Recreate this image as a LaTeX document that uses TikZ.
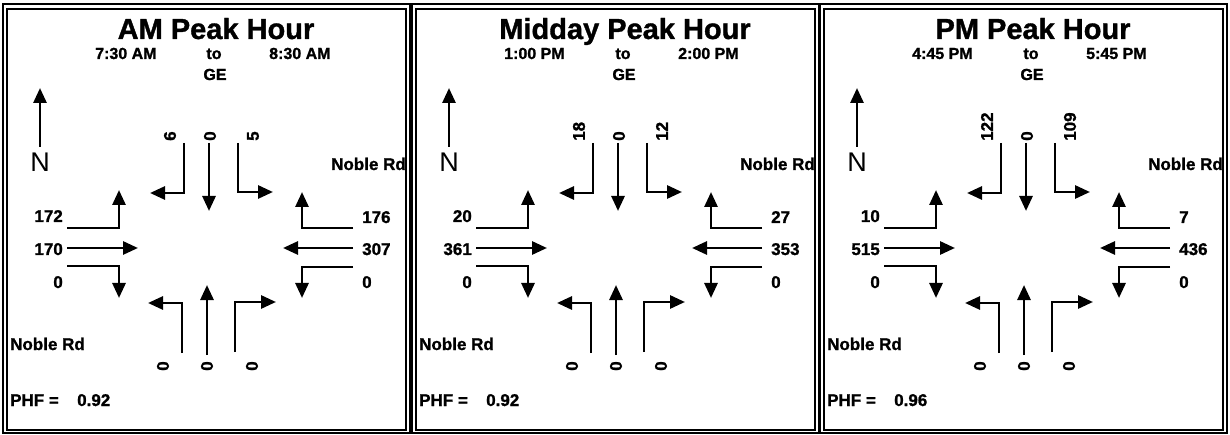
\documentclass[tikz,border=0pt]{standalone}
\usepackage{fontspec}
\setmainfont{Liberation Sans}[BoldFeatures={FakeBold=1.2}]
\usetikzlibrary{arrows.meta}
\begin{document}
\begin{tikzpicture}[x=1pt,y=-1pt,
  lbl/.style={font=\fontsize{17}{17}\selectfont\bfseries, inner sep=0pt},
  ttl/.style={font=\fontsize{29}{29}\selectfont\bfseries, inner sep=0pt},
  tm/.style={font=\fontsize{16}{16}\selectfont\bfseries, inner sep=0pt},
  nrth/.style={font=\fontsize{27}{27}\selectfont, inner sep=0pt},
  mv/.style={line width=2.8pt, -{Triangle[length=15pt,width=13pt]}},
  frm/.style={line width=1.3pt}]
\useasboundingbox (0,0) rectangle (1230,435);
\fill[white] (0,0) rectangle (1230,435);
\foreach \ox/\Tt/\Ta/\Tb/\Sa/\Sb/\Sc/\Ea/\Eb/\Ec/\Wa/\Wb/\Wc/\Ph [count=\i] in {
 0/AM Peak Hour/7:30 AM/8:30 AM/6/0/5/172/170/0/176/307/0/0.92,
 409/Midday Peak Hour/1:00 PM/2:00 PM/18/0/12/20/361/0/27/353/0/0.92,
 817/PM Peak Hour/4:45 PM/5:45 PM/122/0/109/10/515/0/7/436/0/0.96}
{
 \begin{scope}[xshift=\ox pt]
  % frame
  \draw[frm] (3,4) rectangle (410,433);
  \draw[frm] (7,9) rectangle (406,430);
  % headings
  \node[ttl, anchor=base] (title\i) at (216,39) {\Tt};
  \node[tm, anchor=base west] (from\i) at (95,59) {\Ta};
  \node[tm, anchor=base] (to\i) at (214,59) {to};
  \node[tm, anchor=base west] (till\i) at (269,59) {\Tb};
  \node[tm, anchor=base] (ge\i) at (215,80) {GE};
  % north arrow
  \coordinate (nb\i) at (40,147);
  \coordinate (nt\i) at (40,88);
  \draw[mv] (nb\i) -- (nt\i);
  \node[nrth, anchor=base] (N\i) at (40,172) {N};
  % street names
  \node[lbl, anchor=base east] (nobleE\i) at (406,170) {Noble Rd};
  \node[lbl, anchor=base west] (nobleW\i) at (10,350) {Noble Rd};
  \node[lbl, anchor=base west] (phfl\i) at (10,406) {PHF =};
  \node[lbl, anchor=base west] (phfv\i) at (77,406) {\Ph};
  % southbound
  \node[lbl, rotate=90, anchor=west] (sa\i) at (170,141) {\Sa};
  \node[lbl, rotate=90, anchor=west] (sb\i) at (210,141) {\Sb};
  \node[lbl, rotate=90, anchor=west] (sc\i) at (253,141) {\Sc};
  \draw[mv] (184,143) -- (184,193) -- (150,193);
  \draw[mv] (209,143) -- (209,211);
  \draw[mv] (238,143) -- (238,192) -- (273,192);
  % eastbound
  \node[lbl, anchor=base east] (ea\i) at (63,222) {\Ea};
  \node[lbl, anchor=base east] (eb\i) at (63,255) {\Eb};
  \node[lbl, anchor=base east] (ec\i) at (63,288) {\Ec};
  \draw[mv] (67,228) -- (119,228) -- (119,190);
  \draw[mv] (67,248) -- (138,248);
  \draw[mv] (67,266) -- (119,266) -- (119,298);
  % westbound
  \node[lbl, anchor=base west] (wa\i) at (362,223) {\Wa};
  \node[lbl, anchor=base west] (wb\i) at (362,255) {\Wb};
  \node[lbl, anchor=base west] (wc\i) at (362,288) {\Wc};
  \draw[mv] (353,228) -- (302,228) -- (302,192);
  \draw[mv] (353,248) -- (283,248);
  \draw[mv] (353,267) -- (302,267) -- (302,298);
  % northbound
  \node[lbl, rotate=90, anchor=west] (na\i) at (163,371) {0};
  \node[lbl, rotate=90, anchor=west] (nbt\i) at (207,371) {0};
  \node[lbl, rotate=90, anchor=west] (nc\i) at (252,371) {0};
  \draw[mv] (182,353) -- (182,303) -- (148,303);
  \draw[mv] (207,355) -- (207,285);
  \draw[mv] (235,352) -- (235,302) -- (276,302);
 \end{scope}
}
\end{tikzpicture}
\end{document}
